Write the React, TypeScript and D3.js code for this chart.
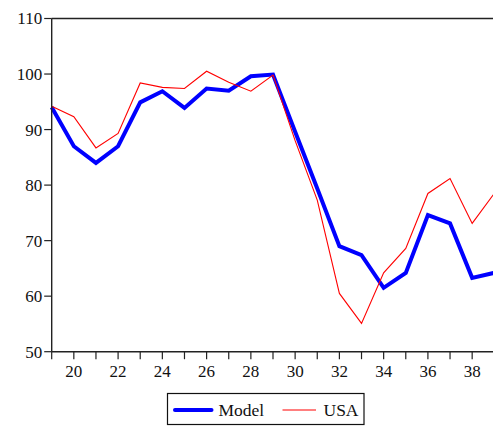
import * as d3 from 'd3';

const years = [19, 20, 21, 22, 23, 24, 25, 26, 27, 28, 29, 30, 31, 32, 33, 34, 35, 36, 37, 38, 39];
const modelValues = [94.0, 87.0, 84.0, 87.0, 94.9, 96.9, 93.9, 97.4, 97.0, 99.6, 99.9, 89.6, 79.4, 69.0, 67.4, 61.5, 64.2, 74.6, 73.1, 63.3, 64.2];
const usaValues = [94.2, 92.3, 86.7, 89.3, 98.4, 97.6, 97.4, 100.5, 98.5, 96.9, 99.8, 88.0, 77.3, 60.5, 55.1, 64.2, 68.6, 78.5, 81.2, 73.1, 78.5];
const yTicks = [50, 60, 70, 80, 90, 100, 110];
const xTickLabels = [20, 22, 24, 26, 28, 30, 32, 34, 36, 38];

const W = 493;
const H = 429;
const FONT = "'Times New Roman', 'Liberation Serif', serif";

export default function App() {
  const left = 51.7;
  const right = 494.3;
  const top = 18.5;
  const bottom = 351.7;

  const x = d3.scaleLinear().domain([19, 39]).range([left, right]);
  const y = d3.scaleLinear().domain([50, 110]).range([bottom, top]);

  const line = d3.line<number>()
    .x((_, i) => x(years[i]))
    .y(d => y(d));

  const axisColor = '#222';
  const textStyle = { fontFamily: FONT };

  return (
    <svg width={W} height={H} style={{ position: 'absolute', left: 0, top: 0, background: '#fff' }}>
      {/* series */}
      <path d={line(modelValues) || ''} fill="none" stroke="#0000ff" strokeWidth={4} strokeLinejoin="miter" />
      <path d={line(usaValues) || ''} fill="none" stroke="#ff0000" strokeWidth={1.1} />

      {/* frame */}
      <line x1={left} x2={W} y1={top} y2={top} stroke={axisColor} strokeWidth={1.4} />
      <line x1={left} x2={left} y1={top} y2={bottom} stroke={axisColor} strokeWidth={1.4} />
      <line x1={left} x2={W} y1={bottom} y2={bottom} stroke={axisColor} strokeWidth={1.4} />

      {/* y axis */}
      {yTicks.map(t => (
        <g key={t}>
          <line x1={left - 7.5} x2={left} y1={y(t)} y2={y(t)} stroke={axisColor} strokeWidth={1.2} />
          <text x={left - 9.5} y={y(t)} dy="0.35em" textAnchor="end" style={textStyle} fontSize={17} fill="#111">
            {t}
          </text>
        </g>
      ))}

      {/* x axis */}
      {years.map(yr => (
        <line key={yr} x1={x(yr)} x2={x(yr)} y1={bottom} y2={bottom + 7.5} stroke={axisColor} strokeWidth={1.2} />
      ))}
      {xTickLabels.map(yr => (
        <text key={yr} x={x(yr)} y={bottom + 25} textAnchor="middle" style={textStyle} fontSize={17} fill="#111">
          {yr}
        </text>
      ))}

      {/* legend */}
      <rect x={167.5} y={393.5} width={196.5} height={31} fill="#fff" stroke="#111" strokeWidth={1.2} />
      <line x1={175} x2={211.5} y1={410} y2={410} stroke="#0000ff" strokeWidth={4} strokeLinecap="round" />
      <text x={218.5} y={416} style={textStyle} fontSize={17.5} fill="#111">Model</text>
      <line x1={282.5} x2={316} y1={410} y2={410} stroke="#ff0000" strokeWidth={1.1} />
      <text x={323.5} y={416} style={textStyle} fontSize={17.5} fill="#111">USA</text>
    </svg>
  );
}
